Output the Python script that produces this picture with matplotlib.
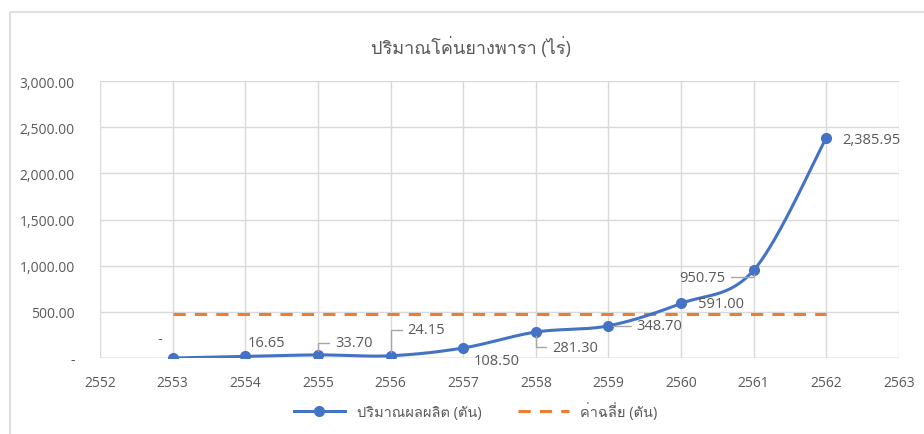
import numpy as np
import matplotlib
matplotlib.use('Agg')
import matplotlib.pyplot as plt
from matplotlib import font_manager
from matplotlib.patches import Rectangle
from matplotlib.lines import Line2D
from matplotlib.ticker import FuncFormatter
from fontTools.ttLib import TTFont

years = [2553, 2554, 2555, 2556, 2557, 2558, 2559, 2560, 2561, 2562]
amount = [0.00, 16.65, 33.70, 24.15, 108.50, 281.30, 348.70, 591.00, 950.75, 2385.95]
title = 'ปริมาณโค่นยางพารา (ไร่)'
series_name = 'ปริมาณผลผลิต (ตัน)'
avg_name = 'ค่าฉลี่ย (ตัน)'


def find_thai_font():
    for f in font_manager.fontManager.ttflist:
        try:
            tt = TTFont(f.fname, fontNumber=0, lazy=True)
            if 0x0E1B in tt.getBestCmap():
                return f.name
        except Exception:
            pass
    return None


thai = find_thai_font()
fams = ['Open Sans'] + ([thai] if thai else []) + ['DejaVu Sans']
plt.rcParams['font.family'] = fams

blue = '#4472C4'
orange = '#ED7D31'
grey = '#595959'
grid = '#D9D9D9'

avg = np.mean(amount)

# Excel style smoothing (Catmull-Rom through the points)
x = np.array(years, dtype=float)
y = np.array(amount, dtype=float)
px = np.concatenate([[x[0]], x, [x[-1]]])
py = np.concatenate([[y[0]], y, [y[-1]]])
sx, sy = [], []
t = np.linspace(0, 1, 40)
for i in range(1, len(px) - 2):
    p0, p1, p2, p3 = px[i-1:i+3]
    q0, q1, q2, q3 = py[i-1:i+3]
    b1x, b2x = p1 + (p2 - p0) / 6, p2 - (p3 - p1) / 6
    b1y, b2y = q1 + (q2 - q0) / 6, q2 - (q3 - q1) / 6
    sx.extend((1-t)**3*p1 + 3*(1-t)**2*t*b1x + 3*(1-t)*t**2*b2x + t**3*p2)
    sy.extend((1-t)**3*q1 + 3*(1-t)**2*t*b1y + 3*(1-t)*t**2*b2y + t**3*q2)

fig = plt.figure(figsize=(9.24, 4.35), dpi=100)
ax = fig.add_axes([100/924, 1-359/435, 799/924, 277/435])

fig.patches.append(Rectangle((10/924, -0.05), 1.2, 1-13/435+0.05, transform=fig.transFigure,
                             fill=False, edgecolor=grid, linewidth=1.2, clip_on=False))

ax.plot(sx, sy, color=blue, linewidth=2.2, zorder=3)
ax.plot(years, amount, 'o', color=blue, markersize=7, zorder=4)
ax.plot([years[0], years[-1]], [avg, avg], color=orange, linewidth=2.2,
        dashes=(4, 3), zorder=2)

ax.set_xlim(2552, 2563)
ax.set_ylim(0, 3000)
ax.set_xticks(range(2552, 2564))
ax.set_yticks(range(0, 3001, 500))
ax.yaxis.set_major_formatter(FuncFormatter(lambda v, p: '-' if v == 0 else f'{v:,.2f}'))
ax.grid(True, color=grid, linewidth=1)
ax.set_axisbelow(True)
for s in ax.spines.values():
    s.set_visible(False)
ax.axhline(0, color='#BFBFBF', linewidth=1, zorder=1)
ax.tick_params(length=0, colors=grey, labelsize=10)
ax.tick_params(axis='y', pad=18)
ax.tick_params(axis='x', pad=12)

# data labels (offsets in pixels, +y is up), some with leader lines
offs = [(-13, 19), (2, 14), (17, 12), (17, 26), (10, -13), (16, -15), (28, 0), (17, 0), (-28, -7), (16, -2)]
leaders = [False, False, True, True, False, True, True, False, True, False]
for xi, yi, (dx, dy), ld in zip(years, amount, offs, leaders):
    lab = '-' if yi == 0 else f'{yi:,.2f}'
    ha = 'right' if dx < 0 and ld else ('center' if dx < 0 else 'left')
    ap = dict(arrowstyle='-', color='#A6A6A6', lw=1, shrinkA=2, shrinkB=3,
              connectionstyle='angle,angleA=0,angleB=90,rad=0') if ld else None
    ax.annotate(lab, (xi, yi), xytext=(dx, dy), textcoords='offset pixels',
                ha=ha, va='center', fontsize=10.5, color=grey, arrowprops=ap, zorder=5)

fig.text(0.51, 1-47/435, title, ha='center', va='center', fontsize=13, color=grey)

handles = [Line2D([], [], color=blue, linewidth=2.2, marker='o', markersize=7),
           Line2D([], [], color=orange, linewidth=2.2, dashes=(4, 3))]
fig.legend(handles, [series_name, avg_name], loc='center', bbox_to_anchor=(0.515, 1-412/435),
           ncol=2, frameon=False, fontsize=10.5, labelcolor=grey, handlelength=3.5,
           columnspacing=2.5)

fig.savefig('out.png', dpi=100)
